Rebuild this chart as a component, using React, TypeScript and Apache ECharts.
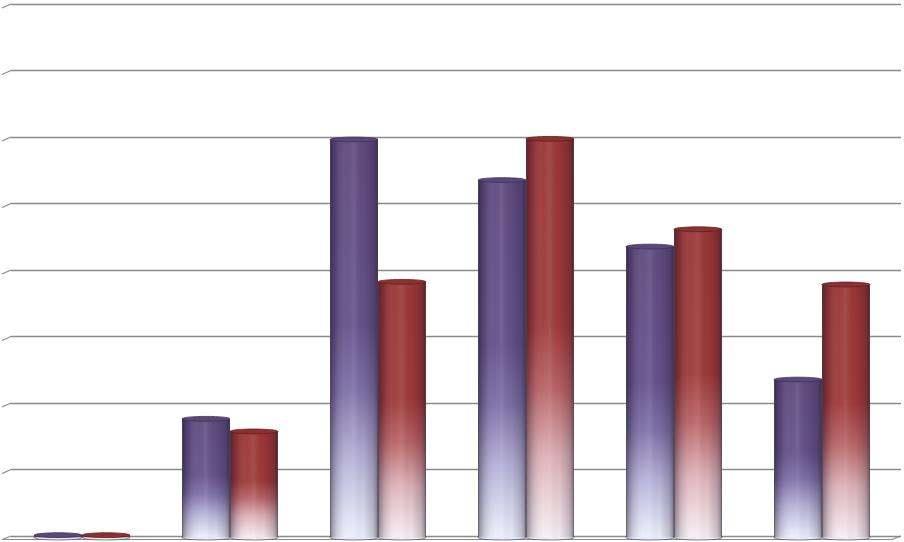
import React, { useEffect, useRef } from "react";
import * as echarts from "echarts";

const categories = ["1", "2", "3", "4", "5", "6"];
const seriesA = [0.02, 1.77, 5.97, 5.36, 4.36, 2.36];
const seriesB = [0.02, 1.58, 3.83, 5.98, 4.62, 3.79];
const yTicks = [0, 1, 2, 3, 4, 5, 6, 7, 8];

const palettes = [
  {
    body: [
      [0, "#5f4b80"],
      [0.47, "#65528a"],
      [0.63, "#7d6fa6"],
      [0.8, "#b5b0d6"],
      [1, "#eceffb"],
    ],
    top: "#5b4879",
    topStroke: "#3e3158",
    bottom: "#e6e9f6",
  },
  {
    body: [
      [0, "#9a3636"],
      [0.47, "#9e3a3a"],
      [0.63, "#b86466"],
      [0.8, "#dcb2b8"],
      [1, "#f5eef3"],
    ],
    top: "#8f3030",
    topStroke: "#5e1f1f",
    bottom: "#f0e9ee",
  },
];

function cylinder(seriesIdx: number) {
  return (params: any, api: any) => {
    const idx = api.value(0);
    const v = api.value(1);
    const topPt = api.coord([idx, v]);
    const basePt = api.coord([idx, 0]);
    const band = api.size([1, 0])[0];
    const w = band * 0.324;
    const x0 = seriesIdx === 0 ? topPt[0] - w : topPt[0];
    const cx = x0 + w / 2;
    const ry = 2.4;
    const bottom = basePt[1] + 1.6;
    const top = Math.min(topPt[1] + 0.5, bottom - 0.5);
    const h = bottom - top;
    const p = palettes[seriesIdx];
    const vert = new echarts.graphic.LinearGradient(
      0, 0, 0, 1,
      p.body.map(([o, c]) => ({ offset: o as number, color: c as string }))
    );
    const horiz = new echarts.graphic.LinearGradient(0, 0, 1, 0, [
      { offset: 0, color: "rgba(20,10,30,0.45)" },
      { offset: 0.12, color: "rgba(20,10,30,0.18)" },
      { offset: 0.35, color: "rgba(255,255,255,0.04)" },
      { offset: 0.5, color: "rgba(255,255,255,0.10)" },
      { offset: 0.7, color: "rgba(0,0,0,0.02)" },
      { offset: 0.9, color: "rgba(20,10,30,0.2)" },
      { offset: 1, color: "rgba(20,10,30,0.45)" },
    ]);
    return {
      type: "group",
      children: [
        {
          type: "ellipse",
          shape: { cx, cy: bottom, rx: w / 2, ry },
          style: { fill: p.bottom, stroke: "rgba(90,90,100,0.7)", lineWidth: 1 },
        },
        {
          type: "rect",
          shape: { x: x0, y: top, width: w, height: h },
          style: { fill: vert },
        },
        {
          type: "rect",
          shape: { x: x0, y: top, width: w, height: h },
          style: { fill: horiz },
        },
        {
          type: "line",
          shape: { x1: x0 + 0.5, y1: top, x2: x0 + 0.5, y2: bottom },
          style: { stroke: "rgba(70,70,80,0.55)", lineWidth: 1 },
        },
        {
          type: "line",
          shape: { x1: x0 + w - 0.5, y1: top, x2: x0 + w - 0.5, y2: bottom },
          style: { stroke: "rgba(70,70,80,0.55)", lineWidth: 1 },
        },
        {
          type: "ellipse",
          shape: { cx, cy: top, rx: w / 2, ry },
          style: { fill: p.top, stroke: p.topStroke, lineWidth: 0.8 },
        },
      ],
    };
  };
}

export default function App() {
  const ref = useRef<HTMLDivElement>(null);
  useEffect(() => {
    if (!ref.current) return;
    const chart = echarts.init(ref.current, null, { renderer: "svg" });
    const lineColor = "#8a8a8a";
    chart.setOption({
      animation: false,
      backgroundColor: "#ffffff",
      grid: [
        { left: 11, right: 3, top: 4, bottom: 6 },
        { left: 8, right: 8, top: 4, bottom: 6 },
      ],
      xAxis: [
        { gridIndex: 0, type: "value", min: 0, max: 1, show: false },
        {
          gridIndex: 1,
          type: "category",
          data: categories,
          show: false,
        },
      ],
      yAxis: [
        {
          gridIndex: 0,
          type: "value",
          min: 0,
          max: 8,
          interval: 1,
          axisLine: { show: false },
          axisTick: { show: false },
          axisLabel: { show: false },
          splitLine: { show: true, lineStyle: { color: lineColor, width: 1.4 } },
        },
        {
          gridIndex: 1,
          type: "value",
          min: 0,
          max: 8,
          interval: 1,
          show: false,
          splitLine: { show: false },
        },
      ],
      series: [
        {
          type: "custom",
          xAxisIndex: 0,
          yAxisIndex: 0,
          data: yTicks.map((t) => [0, t]),
          silent: true,
          renderItem: (params: any, api: any) => {
            const t = api.value(1);
            const left = api.coord([0, t]);
            const right = api.coord([1, t]);
            if (t === 0) {
              return {
                type: "polyline",
                shape: {
                  points: [
                    [left[0], left[1]],
                    [left[0] - 9, left[1] + 3.5],
                    [right[0] - 9, right[1] + 3.5],
                    [right[0], right[1]],
                  ],
                },
                style: { stroke: lineColor, lineWidth: 1.2, fill: "none" },
              };
            }
            return {
              type: "line",
              shape: { x1: left[0], y1: left[1], x2: left[0] - 9, y2: left[1] + 4 },
              style: { stroke: lineColor, lineWidth: 1.2 },
            };
          },
        },
        {
          type: "custom",
          xAxisIndex: 1,
          yAxisIndex: 1,
          data: seriesA.map((v, i) => [i, v]),
          renderItem: cylinder(0),
          z: 3,
        },
        {
          type: "custom",
          xAxisIndex: 1,
          yAxisIndex: 1,
          data: seriesB.map((v, i) => [i, v]),
          renderItem: cylinder(1),
          z: 4,
        },
      ],
    });
    return () => chart.dispose();
  }, []);
  return (
    <div
      ref={ref}
      style={{ position: "absolute", left: 0, top: 0, width: 904, height: 542 }}
    />
  );
}
